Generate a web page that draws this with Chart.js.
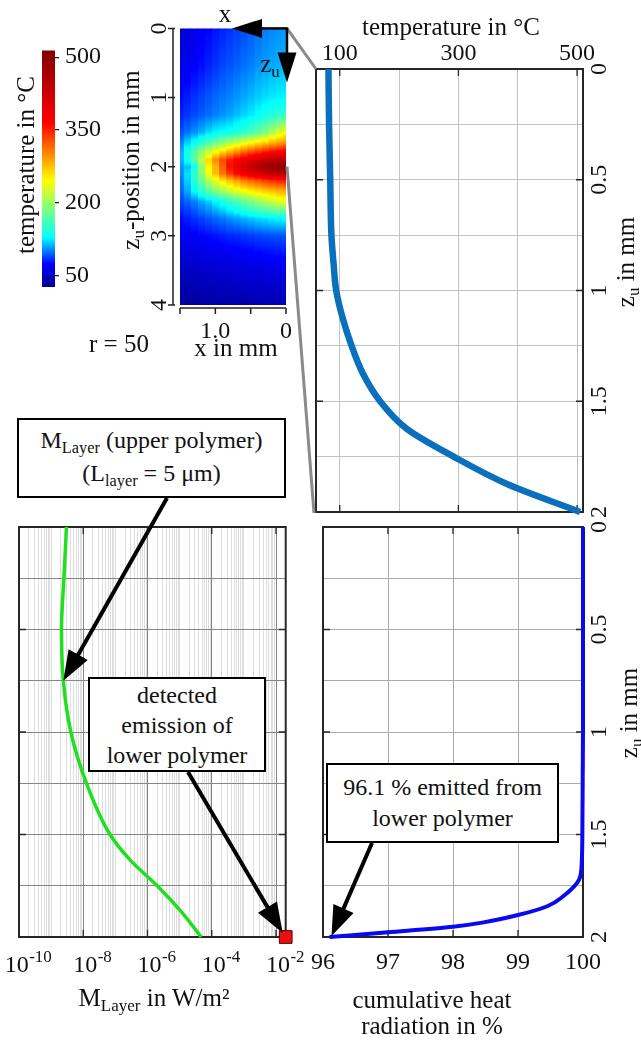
<!DOCTYPE html>
<html lang="en">
<head>
<meta charset="utf-8">
<title>Temperature field and layer emission</title>
<script src="https://cdn.jsdelivr.net/npm/chart.js@4.4.1/dist/chart.umd.min.js"></script>
<style>
  html, body { margin: 0; padding: 0; background: #fff; }
  #fig { position: relative; width: 641px; height: 1040px; overflow: hidden;
         font-family: 'Liberation Serif', 'Times New Roman', serif; color: #111; }
  #fig canvas { position: absolute; }
  #ov { position: absolute; left: 0; top: 0; }
  .t { position: absolute; font-size: 25px; line-height: 25px; white-space: nowrap; }
  .ctr { transform: translate(-50%, -50%); }
  .rot { transform: translate(-50%, -50%) rotate(-90deg); }
  .sb { font-size: 0.68em; position: relative; top: 0.32em; }
  .box { position: absolute; box-sizing: border-box; border: 2.5px solid #000; background: #fff;
         display: flex; flex-direction: column; align-items: center; justify-content: center;
         font-size: 24px; line-height: 31px; white-space: nowrap; }
</style>
</head>
<body>
<div id="fig">
  <svg id="ov" width="641" height="1040"></svg>

  <div class="t ctr" style="left:225px;top:13px">x</div>
  <div class="t ctr" style="left:270px;top:65px">z<span class="sb">u</span></div>
  <div class="t rot" style="left:25px;top:165px">temperature in °C</div>
  <div class="t rot" style="left:132px;top:160px">z<span class="sb">u</span>-position in mm</div>
  <div class="t ctr" style="left:236px;top:347px">x in mm</div>
  <div class="t ctr" style="left:119px;top:343px">r = 50</div>
  <div class="t ctr" style="left:451px;top:26px">temperature in °C</div>
  <div class="t rot" style="left:627px;top:262px">z<span class="sb">u</span> in mm</div>
  <div class="t rot" style="left:630px;top:713px">z<span class="sb">u</span> in mm</div>
  <div class="t ctr" style="left:154px;top:999px">M<span class="sb">Layer</span> in W/m²</div>
  <div class="t ctr" style="left:432px;top:1013px;text-align:center;line-height:26px">cumulative heat<br>radiation in %</div>

  <div class="box" style="left:17px;top:418px;width:269px;height:80px">
    <div>M<span class="sb">Layer</span> (upper polymer)</div>
    <div>(L<span class="sb">layer</span> = 5 μm)</div>
  </div>
  <div class="box" style="left:88px;top:677px;width:178px;height:95px;line-height:30px">
    <div>detected</div><div>emission of</div><div>lower polymer</div>
  </div>
  <div class="box" style="left:326px;top:763px;width:233px;height:80px">
    <div>96.1 % emitted from</div><div>lower polymer</div>
  </div>
</div>

<script>
// ---------------- data ----------------

// Temperature field T(x, z_u) in °C; rows follow fieldZ, columns follow fieldX
const fieldX = [0, 0.1, 0.2, 0.3, 0.4, 0.5, 0.6, 0.7, 0.8, 0.9, 1.0, 1.1, 1.2, 1.3, 1.4, 1.5];
const fieldZ = [0, 0.5, 1.0, 1.25, 1.5, 1.65, 1.8, 1.9, 2.0, 2.1, 2.2, 2.35, 2.5, 2.75, 3.0, 3.5, 4.0];
const fieldT = [
  [106, 105, 103, 100,  97,  93,  90,  87,  84,  81,  78,  74,  69,  64,  58,  52],
  [112, 111, 109, 107, 104, 100,  97,  94,  91,  88,  84,  80,  76,  72,  67,  62],
  [127, 126, 124, 121, 118, 114, 110, 106, 102,  99,  96,  92,  88,  84,  80,  76],
  [152, 148, 142, 136, 130, 124, 119, 114, 109, 105, 101,  97,  93,  89,  85,  81],
  [240, 225, 205, 186, 170, 158, 148, 140, 134, 130, 127, 120, 112, 105,  98,  90],
  [295, 288, 278, 266, 255, 244, 232, 220, 205, 190, 175, 160, 145, 132, 118, 102],
  [385, 380, 372, 362, 350, 338, 324, 308, 290, 272, 252, 228, 200, 168, 138, 112],
  [450, 445, 438, 428, 416, 402, 386, 370, 352, 330, 300, 262, 215, 170, 135, 112],
  [505, 500, 490, 475, 455, 435, 410, 385, 360, 320, 280, 250, 195, 135, 115, 105],
  [450, 446, 438, 427, 414, 399, 382, 362, 340, 312, 276, 240, 192, 150, 122, 104],
  [355, 352, 346, 338, 328, 318, 306, 292, 276, 258, 236, 210, 178, 145, 118, 100],
  [285, 282, 276, 270, 262, 254, 244, 233, 220, 205, 188, 170, 150, 130, 110,  96],
  [238, 232, 222, 210, 198, 186, 174, 162, 150, 138, 128, 118, 110, 102,  95,  89],
  [130, 128, 126, 123, 120, 116, 112, 108, 104, 100,  96,  92,  88,  84,  80,  76],
  [ 92,  91,  90,  89,  88,  86,  85,  83,  82,  80,  78,  76,  74,  72,  70,  68],
  [ 64,  64,  63,  62,  61,  60,  59,  58,  57,  56,  55,  53,  52,  50,  49,  48],
  [ 42,  42,  41,  41,  40,  40,  39,  39,  38,  37,  36,  35,  34,  33,  33,  32]
];
const heatXTicks = [0, 0.5, 1.0, 1.5];
const heatZTicks = [0, 1, 2, 3, 4];

// Colour bar
const colorbarRange = [26, 514];
const colorbarTicks = [50, 200, 350, 500];

// Temperature along the centre line (x = 0)
const profileDepth = [0, 0.25, 0.5, 0.75, 0.875, 1.0, 1.125, 1.25, 1.375, 1.5, 1.625, 1.75, 1.875, 2.0];
const profileTemp  = [81, 82, 84, 86, 89.5, 94, 105, 120, 139, 168, 213, 292, 383, 505];
const tempGrid   = [100, 200, 300, 400, 500];
const tempLabels = [100, 300, 500];
const depthTicks = [0, 0.25, 0.5, 0.75, 1.0, 1.25, 1.5, 1.75, 2.0];
const depthMajor = [0.5, 1.0, 1.5];

// Emission of the upper polymer layer (W/m²)
const emissionDepth = [0, 0.25, 0.5, 0.75, 1.0, 1.25, 1.5, 1.625, 1.75, 1.875, 2.0];
const emissionValue = [3.0e-9, 2.5e-9, 2.1e-9, 2.4e-9, 4.1e-9, 1.26e-8, 6.8e-8, 2.9e-7, 2.0e-6, 1.1e-5, 4.7e-5];
const lowerPolymerDepth = 2.0;
const lowerPolymerEmission = 2e-2;
const emissionDecades = [-10, -8, -6, -4, -2];

// Cumulative heat radiation (%)
const cumDepth = [0, 0.5, 1.0, 1.5, 1.64, 1.72, 1.8, 1.85, 1.893, 1.93, 1.95, 1.977, 2.0];
const cumShare = [100, 100, 100, 99.99, 99.98, 99.94, 99.7, 99.45, 99.0, 98.45, 98.0, 97.0, 96.1];
const shareTicks = [96, 97, 98, 99, 100];
const shareMajor = [97, 98, 99];

// ---------------- colour map ----------------
const jetKnots = [
  [26,  [0, 0, 140]],
  [74,  [0, 0, 255]],
  [128, [0, 255, 255]],
  [246, [255, 255, 0]],
  [364, [255, 0, 0]],
  [514, [128, 0, 0]]
];
function colorOf(t) {
  if (t <= jetKnots[0][0]) return rgb(jetKnots[0][1]);
  for (let i = 1; i < jetKnots.length; i++) {
    const [t1, c1] = jetKnots[i];
    if (t <= t1) {
      const [t0, c0] = jetKnots[i - 1];
      const f = (t - t0) / (t1 - t0);
      return rgb(c0.map((v, k) => v + f * (c1[k] - v)));
    }
  }
  return rgb(jetKnots[jetKnots.length - 1][1]);
}
function rgb(c) { return 'rgb(' + c.map(v => Math.round(v)).join(',') + ')'; }

// ---------------- helpers ----------------
Chart.defaults.font.family = "'Liberation Serif', 'Times New Roman', serif";
Chart.defaults.font.size = 24;
Chart.defaults.color = '#111';

const fig = document.getElementById('fig');
const overlay = document.getElementById('ov');

function addCanvas(left, top, w, h) {
  const c = document.createElement('canvas');
  c.width = w; c.height = h;
  c.style.left = left + 'px'; c.style.top = top + 'px';
  c.style.width = w + 'px'; c.style.height = h + 'px';
  fig.insertBefore(c, overlay);
  return { canvas: c, left, top };
}
const fixTicks = vals => scale => { scale.ticks = vals.map(v => ({ value: v })); };
const halfStep = v => Math.abs(v * 2 - Math.round(v * 2)) < 1e-9;
const common = {
  responsive: false, animation: false, devicePixelRatio: 1, events: []
};
const quiet = { legend: { display: false }, tooltip: { enabled: false } };

// Box frame with inward ticks on all four sides
const framePlugin = {
  id: 'frame',
  beforeDatasetsDraw(chart, _args, o) {
    const { ctx, chartArea: a, scales } = chart;
    ctx.save();
    ctx.strokeStyle = '#262626';
    ctx.lineWidth = 1.3;
    ctx.beginPath();
    for (const v of o.xMajor || []) {
      const p = scales.x.getPixelForValue(v);
      ctx.moveTo(p, a.top); ctx.lineTo(p, a.top + 7);
      ctx.moveTo(p, a.bottom); ctx.lineTo(p, a.bottom - 7);
    }
    for (const v of o.yMajor || []) {
      const p = scales.y.getPixelForValue(v);
      ctx.moveTo(a.left, p); ctx.lineTo(a.left + 7, p);
      ctx.moveTo(a.right, p); ctx.lineTo(a.right - 7, p);
    }
    ctx.stroke();
    ctx.lineWidth = 2;
    ctx.strokeRect(a.left, a.top, a.right - a.left, a.bottom - a.top);
    ctx.restore();
  }
};

// Axes of the field plot, drawn slightly apart from the image
const detachedAxes = {
  id: 'detachedAxes',
  afterDraw(chart, _args, o) {
    const { ctx, chartArea: a, scales: { x, y } } = chart;
    const ax = a.left - o.gapLeft, ay = a.bottom + o.gapBottom;
    ctx.save();
    ctx.strokeStyle = '#222';
    ctx.lineWidth = 1.5;
    ctx.beginPath();
    ctx.moveTo(ax, y.getPixelForValue(heatZTicks[0]));
    ctx.lineTo(ax, y.getPixelForValue(heatZTicks[heatZTicks.length - 1]));
    for (const v of heatZTicks) {
      const p = y.getPixelForValue(v);
      ctx.moveTo(ax - 5, p); ctx.lineTo(ax + 2, p);
    }
    ctx.moveTo(x.getPixelForValue(heatXTicks[heatXTicks.length - 1]), ay);
    ctx.lineTo(x.getPixelForValue(heatXTicks[0]), ay);
    for (const v of heatXTicks) {
      const p = x.getPixelForValue(v);
      ctx.moveTo(p, ay); ctx.lineTo(p, ay + 6);
    }
    ctx.stroke();
    ctx.restore();
  }
};

// Power-of-ten tick labels with superscript exponents
const powerLabels = {
  id: 'powerLabels',
  afterDraw(chart, _args, o) {
    const { ctx, chartArea: a, scales: { x } } = chart;
    const base = a.bottom + o.offset;
    const fam = "'Liberation Serif', 'Times New Roman', serif";
    ctx.save();
    ctx.fillStyle = '#111';
    ctx.textAlign = 'left';
    ctx.textBaseline = 'alphabetic';
    for (const e of emissionDecades) {
      const p = x.getPixelForValue(Math.pow(10, e)) + o.shift;
      const sup = '-' + Math.abs(e);
      ctx.font = '24px ' + fam; const wb = ctx.measureText('10').width;
      ctx.font = '17px ' + fam; const ws = ctx.measureText(sup).width;
      const left = p - (wb + ws) / 2;
      ctx.font = '24px ' + fam; ctx.fillText('10', left, base);
      ctx.font = '17px ' + fam; ctx.fillText(sup, left + wb + 0.5, base - 10);
    }
    ctx.restore();
  }
};

// Vertical shading of one field column through the colour map
function columnFill(context) {
  const chart = context.chart;
  const j = context.dataIndex;
  if (!chart.chartArea || j === undefined) return '#00f';
  const ys = chart.scales.y;
  const z0 = fieldZ[0], z1 = fieldZ[fieldZ.length - 1];
  const g = chart.ctx.createLinearGradient(0, ys.getPixelForValue(z0), 0, ys.getPixelForValue(z1));
  const pos = z => Math.min(1, Math.max(0, (z - z0) / (z1 - z0)));
  for (let i = 0; i < fieldZ.length; i++) {
    const t = fieldT[i][j];
    g.addColorStop(pos(fieldZ[i]), colorOf(t));
    if (i < fieldZ.length - 1) {
      const t2 = fieldT[i + 1][j];
      for (const [k] of jetKnots) {
        if ((k - t) * (k - t2) < 0) {
          const f = (k - t) / (t2 - t);
          g.addColorStop(pos(fieldZ[i] + f * (fieldZ[i + 1] - fieldZ[i])), colorOf(k));
        }
      }
    }
  }
  return g;
}

function colorbarFill(context) {
  const chart = context.chart;
  if (!chart.chartArea) return '#00f';
  const ys = chart.scales.y;
  const [lo, hi] = colorbarRange;
  const g = chart.ctx.createLinearGradient(0, ys.getPixelForValue(lo), 0, ys.getPixelForValue(hi));
  for (const [t, c] of jetKnots) g.addColorStop((t - lo) / (hi - lo), rgb(c));
  return g;
}

// ---------------- colour bar ----------------
const cb = addCanvas(0, 30, 120, 280);
new Chart(cb.canvas, {
  type: 'bar',
  data: { labels: [''], datasets: [{
    data: [colorbarRange.slice()], backgroundColor: colorbarFill,
    borderWidth: 0, barPercentage: 1, categoryPercentage: 1
  }]},
  options: Object.assign({}, common, {
    layout: { padding: { left: 42, top: 13, right: 0, bottom: 23 } },
    plugins: quiet,
    scales: {
      x: { display: false },
      y: {
        position: 'right', min: colorbarRange[0], max: colorbarRange[1],
        afterFit: s => { s.width = 65; }, afterBuildTicks: fixTicks(colorbarTicks),
        grid: { drawOnChartArea: false, tickLength: 4, color: '#222', lineWidth: 1.3 },
        border: { display: false },
        ticks: { padding: 6, autoSkip: false, callback: v => String(v) }
      }
    }
  })
});

// ---------------- temperature field ----------------
const hm = addCanvas(100, 0, 200, 340);
const heatChart = new Chart(hm.canvas, {
  type: 'bar',
  data: { datasets: [{
    data: fieldX.map(x => ({ x, y: [fieldZ[0], fieldZ[fieldZ.length - 1]] })),
    backgroundColor: columnFill, borderWidth: 0,
    barPercentage: 1, categoryPercentage: 1
  }]},
  options: Object.assign({}, common, {
    layout: { padding: { left: 0, top: 24, right: 14, bottom: 0 } },
    plugins: Object.assign({}, quiet, { detachedAxes: { gapLeft: 7, gapBottom: 3 } }),
    scales: {
      x: {
        type: 'linear', position: 'bottom', min: 0, max: 1.5, reverse: true, offset: false,
        afterFit: s => { s.height = 35; }, afterBuildTicks: fixTicks(heatXTicks),
        grid: { display: false, drawTicks: false, offset: false }, border: { display: false },
        ticks: { padding: 12, autoSkip: false, maxRotation: 0,
                 callback: v => v === 1 ? '1.0' : (v === 0 ? '0' : '') }
      },
      y: {
        type: 'linear', position: 'left', min: 0, max: 4, reverse: true,
        afterFit: s => { s.width = 80; }, afterBuildTicks: fixTicks(heatZTicks),
        grid: { display: false, drawTicks: false }, border: { display: false },
        ticks: { padding: 14, autoSkip: false, minRotation: 90, maxRotation: 90,
                 crossAlign: 'center', callback: v => String(v) }
      }
    }
  }),
  plugins: [detachedAxes]
});

// ---------------- centre-line temperature ----------------
const pf = addCanvas(300, 0, 341, 530);
const profileChart = new Chart(pf.canvas, {
  type: 'line',
  data: { datasets: [{
    data: profileDepth.map((z, i) => ({ x: profileTemp[i], y: z })),
    borderColor: '#0a70bd', borderWidth: 6.5, pointRadius: 0,
    cubicInterpolationMode: 'monotone', clip: 4
  }]},
  options: Object.assign({}, common, {
    indexAxis: 'y',
    layout: { padding: { left: 16, top: 0, right: 0, bottom: 18 } },
    plugins: Object.assign({}, quiet, { frame: { xMajor: tempLabels, yMajor: depthMajor } }),
    scales: {
      x: {
        type: 'linear', position: 'top', min: 60, max: 510,
        afterFit: s => { s.height = 69; }, afterBuildTicks: fixTicks(tempGrid),
        grid: { color: '#c2c2c2', lineWidth: 1, drawTicks: false }, border: { display: false },
        ticks: { padding: 1, autoSkip: false, maxRotation: 0,
                 callback: v => tempLabels.includes(v) ? String(v) : '' }
      },
      y: {
        type: 'linear', position: 'right', min: 0, max: 2, reverse: true,
        afterFit: s => { s.width = 58; }, afterBuildTicks: fixTicks(depthTicks),
        grid: { color: '#c2c2c2', lineWidth: 1, drawTicks: false }, border: { display: false },
        ticks: { padding: 2, autoSkip: false, minRotation: 90, maxRotation: 90,
                 crossAlign: 'center', callback: v => halfStep(v) ? String(v) : '' }
      }
    }
  }),
  plugins: [framePlugin]
});

// ---------------- layer emission ----------------
const em = addCanvas(0, 510, 330, 530);
const emissionTicks = [];
for (let e = emissionDecades[0]; e <= emissionDecades[emissionDecades.length - 1]; e++) {
  for (let k = 1; k <= 9; k++) {
    const v = k * Math.pow(10, e);
    if (v <= lowerPolymerEmission * 1.0001) emissionTicks.push({ value: v, major: k === 1 && emissionDecades.includes(e) });
  }
}
const emissionChart = new Chart(em.canvas, {
  type: 'line',
  data: { datasets: [
    {
      data: emissionDepth.map((z, i) => ({ x: emissionValue[i], y: z })),
      borderColor: '#1fe01f', borderWidth: 3.5, pointRadius: 0,
      cubicInterpolationMode: 'monotone', clip: 3
    },
    {
      data: [{ x: lowerPolymerEmission, y: lowerPolymerDepth }],
      showLine: false, pointStyle: 'rect', pointRadius: 9,
      pointBackgroundColor: '#ea1010', pointBorderColor: '#5a0000', pointBorderWidth: 1,
      clip: false
    }
  ]},
  options: Object.assign({}, common, {
    indexAxis: 'y',
    layout: { padding: { left: 19, top: 17, right: 44.3, bottom: 0 } },
    plugins: Object.assign({}, quiet, {
      frame: { xMajor: emissionDecades.slice(1).map(e => Math.pow(10, e)), yMajor: depthMajor },
      powerLabels: { offset: 35, shift: 9 }
    }),
    scales: {
      x: {
        type: 'logarithmic', position: 'bottom', min: 1e-10, max: lowerPolymerEmission,
        afterFit: s => { s.height = 103; },
        afterBuildTicks: s => { s.ticks = emissionTicks.map(t => Object.assign({}, t)); },
        grid: { color: c => (c.tick && c.tick.major) ? '#858585' : '#dedede', lineWidth: 1, drawTicks: false },
        border: { display: false },
        ticks: { display: false }
      },
      y: {
        type: 'linear', position: 'left', min: 0, max: 2, reverse: true,
        afterFit: s => { s.width = 0; }, afterBuildTicks: fixTicks(depthTicks),
        grid: { color: '#858585', lineWidth: 1, drawTicks: false }, border: { display: false },
        ticks: { display: false }
      }
    }
  }),
  plugins: [framePlugin, powerLabels]
});

// ---------------- cumulative heat radiation ----------------
const cu = addCanvas(300, 510, 341, 530);
const cumChart = new Chart(cu.canvas, {
  type: 'line',
  data: { datasets: [{
    data: cumDepth.map((z, i) => ({ x: cumShare[i], y: z })),
    borderColor: '#0a0af0', borderWidth: 4, pointRadius: 0,
    cubicInterpolationMode: 'monotone', clip: 5
  }]},
  options: Object.assign({}, common, {
    indexAxis: 'y',
    layout: { padding: { left: 15, top: 17, right: 0, bottom: 0 } },
    plugins: Object.assign({}, quiet, { frame: { xMajor: shareMajor, yMajor: depthMajor } }),
    scales: {
      x: {
        type: 'linear', position: 'bottom', min: shareTicks[0], max: shareTicks[shareTicks.length - 1],
        afterFit: s => { s.height = 103; }, afterBuildTicks: fixTicks(shareTicks),
        grid: { color: '#ababab', lineWidth: 1, drawTicks: false }, border: { display: false },
        ticks: { padding: 11, autoSkip: false, maxRotation: 0, callback: v => String(v) }
      },
      y: {
        type: 'linear', position: 'right', min: 0, max: 2, reverse: true,
        afterFit: s => { s.width = 58; }, afterBuildTicks: fixTicks(depthTicks),
        grid: { color: '#ababab', lineWidth: 1, drawTicks: false }, border: { display: false },
        ticks: { padding: 2, autoSkip: false, minRotation: 90, maxRotation: 90,
                 crossAlign: 'center', callback: v => halfStep(v) ? String(v) : '' }
      }
    }
  }),
  plugins: [framePlugin]
});

// ---------------- connectors and arrows ----------------
const NS = 'http://www.w3.org/2000/svg';
function svg(tag, attrs) {
  const el = document.createElementNS(NS, tag);
  for (const k in attrs) el.setAttribute(k, attrs[k]);
  overlay.appendChild(el);
  return el;
}
function at(chart, holder, xv, yv) {
  return [holder.left + chart.scales.x.getPixelForValue(xv), holder.top + chart.scales.y.getPixelForValue(yv)];
}
function corner(chart, holder, which) {
  const a = chart.chartArea;
  return which === 'tl' ? [holder.left + a.left, holder.top + a.top] : [holder.left + a.left, holder.top + a.bottom];
}
function arrow(from, tip, len, half, width) {
  const dx = tip[0] - from[0], dy = tip[1] - from[1];
  const L = Math.hypot(dx, dy), ux = dx / L, uy = dy / L;
  const bx = tip[0] - ux * len, by = tip[1] - uy * len;
  svg('line', { x1: from[0], y1: from[1], x2: bx + ux * 2, y2: by + uy * 2,
                stroke: '#000', 'stroke-width': width });
  svg('polygon', { points: [tip, [bx - uy * half, by + ux * half], [bx + uy * half, by - ux * half]]
                   .map(p => p.join(',')).join(' '), fill: '#000' });
}

// zoom lines from the field edge (x = 0) to the centre-line plot
const fieldTop = at(heatChart, hm, 0, 0);
const fieldMid = at(heatChart, hm, 0, 2);
const profTL = corner(profileChart, pf, 'tl');
const profBL = corner(profileChart, pf, 'bl');
svg('line', { x1: fieldTop[0] + 1, y1: fieldTop[1], x2: profTL[0], y2: profTL[1], stroke: '#8a8a8a', 'stroke-width': 3 });
svg('line', { x1: fieldMid[0] + 1, y1: fieldMid[1], x2: profBL[0] - 2, y2: profBL[1] + 1, stroke: '#8a8a8a', 'stroke-width': 3 });

// coordinate system arrows at the field corner
arrow([fieldTop[0] + 1, fieldTop[1]], [fieldTop[0] - 54, fieldTop[1]], 30, 9.5, 2.5);
arrow([fieldTop[0] + 1, fieldTop[1] - 1], [fieldTop[0] + 1, fieldTop[1] + 54], 30, 9.5, 2.5);

// annotation arrows
arrow([167, 498], at(emissionChart, em, emissionValue[3], emissionDepth[3]), 30, 11, 4);
const sq = at(emissionChart, em, lowerPolymerEmission, lowerPolymerDepth);
arrow([188, 772], [sq[0] - 3, sq[1] - 4], 30, 11, 4);
const cumEnd = at(cumChart, cu, cumShare[cumShare.length - 1], cumDepth[cumDepth.length - 1]);
arrow([372, 843], [cumEnd[0] + 2, cumEnd[1] - 1], 30, 11, 4);
</script>
</body>
</html>
